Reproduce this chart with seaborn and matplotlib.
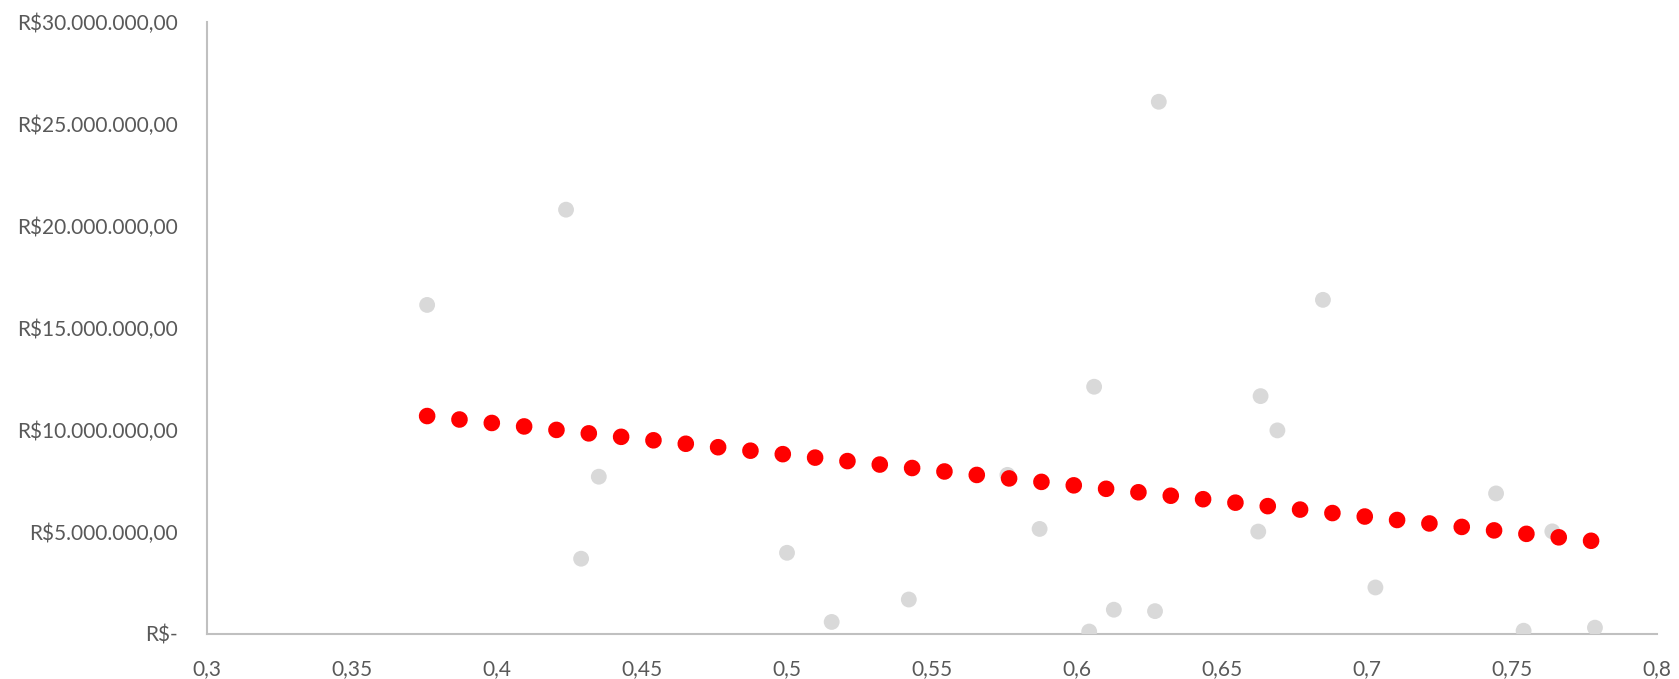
import numpy as np
import pandas as pd
import matplotlib
matplotlib.use("Agg")
import matplotlib.pyplot as plt
import matplotlib.transforms as mtransforms
from matplotlib.ticker import FuncFormatter, MultipleLocator
import seaborn as sns

# share of something (x) vs value in R$ (y)
x_vals = [0.3759, 0.4238, 0.4290, 0.4351, 0.5000, 0.5154, 0.5420, 0.5760,
          0.5871, 0.6042, 0.6059, 0.6127, 0.6269, 0.6282, 0.6625, 0.6633,
          0.6691, 0.6848, 0.7029, 0.7445, 0.7540, 0.7639, 0.7786]
y_vals = [16.13e6, 20.80e6, 3.69e6, 7.71e6, 3.98e6, 0.59e6, 1.69e6, 7.80e6,
          5.15e6, 0.12e6, 12.12e6, 1.19e6, 1.12e6, 26.09e6, 5.02e6, 11.66e6,
          9.98e6, 16.38e6, 2.28e6, 6.89e6, 0.16e6, 5.03e6, 0.31e6]

df = pd.DataFrame({"x": x_vals, "y": y_vals})

sns.set_style("white")
plt.rcParams["font.family"] = ["Lato", "DejaVu Sans"]

fig = plt.figure(figsize=(16.79, 6.79), dpi=100)
ax = fig.add_axes([0.1233, 0.0663, 0.8636, 0.9013])

sns.scatterplot(data=df, x="x", y="y", color="#d9d9d9", s=130,
                edgecolor="none", ax=ax, zorder=2)

# linear trendline, round dots like excel
sns.regplot(data=df, x="x", y="y", scatter=False, ci=None, ax=ax,
            line_kws={"color": "#ff0000", "lw": 12,
                      "linestyle": (0, (0.001, 1.95)),
                      "dash_capstyle": "round", "zorder": 3})

ax.set_xlim(0.3, 0.8)
ax.set_ylim(0, 30e6)
ax.xaxis.set_major_locator(MultipleLocator(0.05))
ax.yaxis.set_major_locator(MultipleLocator(5e6))


def fmt_x(v, pos):
    return f"{v:.2f}".rstrip("0").rstrip(".").replace(".", ",")


def fmt_y(v, pos):
    if abs(v) < 1:
        return "R$-"
    s = f"{v:,.2f}"
    s = s.replace(",", "X").replace(".", ",").replace("X", ".")
    return "R$" + s


ax.xaxis.set_major_formatter(FuncFormatter(fmt_x))
ax.yaxis.set_major_formatter(FuncFormatter(fmt_y))

ax.set_xlabel("")
ax.set_ylabel("")
ax.tick_params(axis="both", length=0, labelsize=15, labelcolor="#595959")
ax.tick_params(axis="y", pad=21)
ax.tick_params(axis="x", pad=18)

for side in ["top", "right"]:
    ax.spines[side].set_visible(False)
for side in ["left", "bottom"]:
    ax.spines[side].set_color("#c0c0c0")
    ax.spines[side].set_linewidth(1.5)
    ax.spines[side].set_zorder(1)

# excel accounting format pushes "R$-" a little left
fig.canvas.draw()
zero_tick = ax.yaxis.get_major_ticks()[0]
offset = mtransforms.ScaledTranslation(-10 / 100, 0, fig.dpi_scale_trans)
zero_tick.label1.set_transform(zero_tick.label1.get_transform() + offset)

fig.savefig("out.png", dpi=100)
